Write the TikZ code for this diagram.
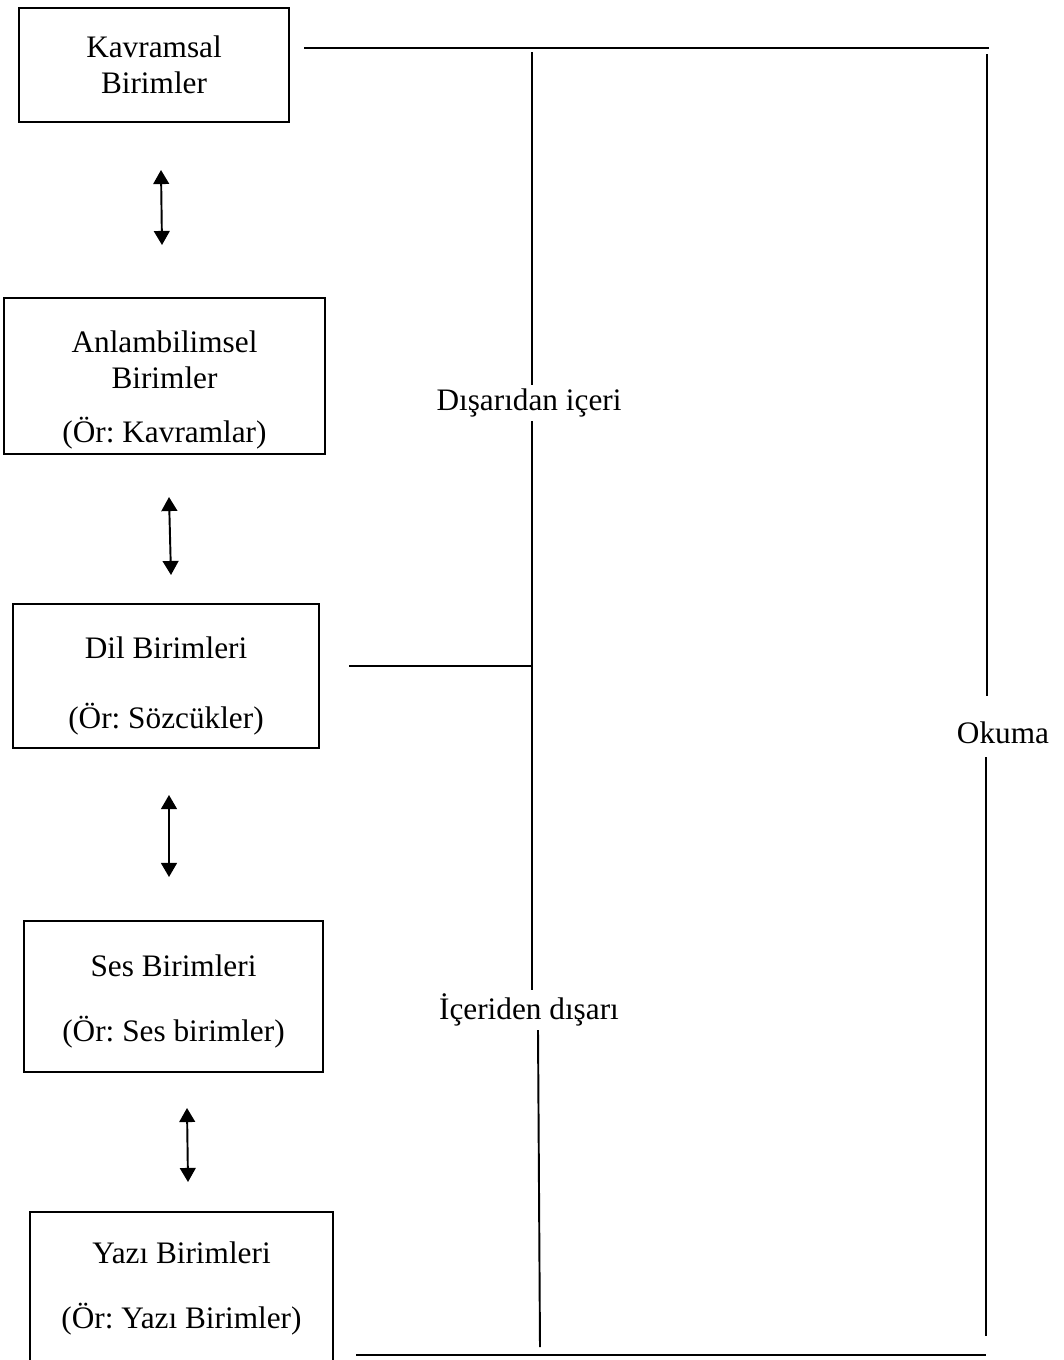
\documentclass[tikz,border=0pt]{standalone}
\usepackage{fontspec}
\setmainfont{Liberation Serif}
\usetikzlibrary{arrows.meta}
\frenchspacing
\begin{document}
\begin{tikzpicture}[x=0.02cm, y=-0.02cm, font=\fontsize{17.8}{20.4}\selectfont,
        main/.style = {draw, line width=0.85pt, align=center, inner sep=0pt},
        lbl/.style = {inner xsep=0pt, inner ysep=2pt},
        link/.style = {line width=1.1pt},
        both/.style = {line width=1.1pt, {Triangle[width=9pt,length=8pt]}-{Triangle[width=9pt,length=8pt]}}]
        \useasboundingbox (0,0) rectangle (1064,1360);

        \node[main, minimum width=5.4cm, minimum height=2.28cm] (kav) at (154,65) {Kavramsal\\Birimler};
        \node[main, minimum width=6.42cm, minimum height=3.12cm, text height=79pt] (anl) at (164.5,376) {Anlambilimsel\\Birimler\\[10pt](Ör: Kavramlar)};
        \node[main, minimum width=6.12cm, minimum height=2.88cm, text height=63pt] (dil) at (166,676) {Dil Birimleri\\[19.3pt](Ör: Sözcükler)};
        \node[main, minimum width=5.98cm, minimum height=3.02cm, text height=55.5pt] (ses) at (173.5,996.5) {Ses Birimleri\\[17pt](Ör: Ses birimler)};
        \node[main, minimum width=6.06cm, minimum height=3.78cm, text depth=24pt, anchor=north] (yaz) at (181.5,1211) {Yazı Birimleri\\[17pt](Ör: Yazı Birimler)};

        % arrows between the boxes
        \coordinate (a1) at (161,170); \coordinate (b1) at (162,245);
        \coordinate (a2) at (169,497); \coordinate (b2) at (171,575);
        \coordinate (a3) at (169,795); \coordinate (b3) at (169,877);
        \coordinate (a4) at (187,1108); \coordinate (b4) at (188,1182);
        \draw[both] (a1) -- (b1);
        \draw[both] (a2) -- (b2);
        \draw[both] (a3) -- (b3);
        \draw[both] (a4) -- (b4);

        % labels on the lines
        \node[lbl] (dis) at (529,403) {Dışarıdan içeri};
        \node[lbl] (ice) at (529,1010) {İçeriden dışarı};
        \node (oku) at (1003,733) {Okuma};

        \coordinate (ttop) at (304,48);  \coordinate (tend) at (989,48);
        \coordinate (mtop) at (532,52);  \coordinate (mjoin) at (532,666);
        \coordinate (mx) at (538,0);     \coordinate (mbot) at (540,1347);
        \coordinate (dend) at (349,666);
        \coordinate (rtop) at (987,54);  \coordinate (rup) at (987,696);
        \coordinate (rlow) at (986,757); \coordinate (rbot) at (986,1336);
        \coordinate (bbeg) at (356,1355); \coordinate (bend) at (986,1355);

        \draw[link] (ttop) -- (tend);
        \draw[link] (mtop) -- (dis.north -| mtop);
        \draw[link] (dis.south -| mtop) -- (mjoin) -- (ice.north -| mjoin);
        \draw[link] (ice.south -| mx) -- (mbot);
        \draw[link] (dend) -- (mjoin);
        \draw[link] (rtop) -- (rup);
        \draw[link] (rlow) -- (rbot);
        \draw[link] (bbeg) -- (bend);

\end{tikzpicture}
\end{document}
